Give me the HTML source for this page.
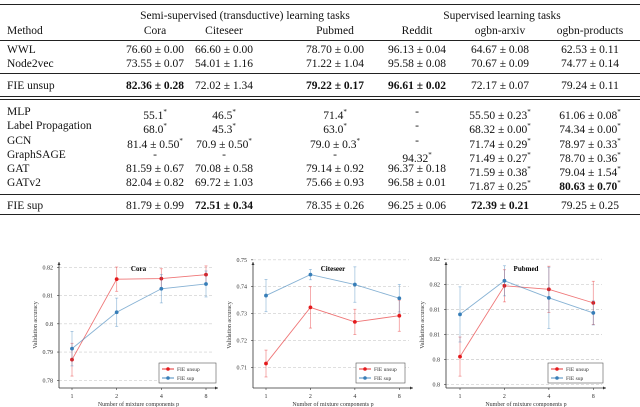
<!DOCTYPE html>
<html><head><meta charset="utf-8"><style>
body{margin:0;width:640px;height:407px;overflow:hidden;background:#fff;font-family:"Liberation Serif",serif;color:#111}
.t{position:absolute;font-size:11.5px;white-space:nowrap;line-height:14px}
.c{transform:translateX(-50%)}
.r{position:absolute;left:0;width:640px;background:#222}
b{font-weight:bold}
sup{font-size:7px;vertical-align:5px}
svg{position:absolute;left:0;top:0}
</style></head><body>
<div>
<div class="r" style="top:4px;height:1.3px"></div>
<div class="t c" style="left:245px;top:9px">Semi-supervised (transductive) learning tasks</div>
<div class="t c" style="left:502px;top:9px">Supervised learning tasks</div>
<div class="t" style="left:7px;top:24px">Method</div>
<div class="t c" style="left:155px;top:24px">Cora</div>
<div class="t c" style="left:224px;top:24px">Citeseer</div>
<div class="t c" style="left:335px;top:24px">Pubmed</div>
<div class="t c" style="left:417px;top:24px">Reddit</div>
<div class="t c" style="left:500px;top:24px">ogbn-arxiv</div>
<div class="t c" style="left:590px;top:24px">ogbn-products</div>
<div class="r" style="top:40px;height:0.8px"></div>
<div id="rows"></div>
<div class="r" style="top:73px;height:0.8px"></div>
<div class="r" style="top:96px;height:0.8px"></div>
<div class="r" style="top:99px;height:0.8px"></div>
<div class="r" style="top:194px;height:0.8px"></div>
<div class="r" style="top:214px;height:1.3px"></div>
</div>
<svg id="ch" width="640" height="407"></svg>
<script>
var rows=[
["WWL",43,"76.60 ± 0.00","66.60 ± 0.00","78.70 ± 0.00","96.13 ± 0.04","64.67 ± 0.08","62.53 ± 0.11"],
["Node2vec",57,"73.55 ± 0.07","54.01 ± 1.16","71.22 ± 1.04","95.58 ± 0.08","70.67 ± 0.09","74.77 ± 0.14"],
["FIE unsup",79,"<b>82.36 ± 0.28</b>","72.02 ± 1.34","<b>79.22 ± 0.17</b>","<b>96.61 ± 0.02</b>","72.17 ± 0.07","79.24 ± 0.11"],
["MLP",105,"55.1<sup>*</sup>","46.5<sup>*</sup>","71.4<sup>*</sup>","-","55.50 ± 0.23<sup>*</sup>","61.06 ± 0.08<sup>*</sup>"],
["Label Propagation",119,"68.0<sup>*</sup>","45.3<sup>*</sup>","63.0<sup>*</sup>","-","68.32 ± 0.00<sup>*</sup>","74.34 ± 0.00<sup>*</sup>"],
["GCN",134,"81.4 ± 0.50<sup>*</sup>","70.9 ± 0.50<sup>*</sup>","79.0 ± 0.3<sup>*</sup>","-","71.74 ± 0.29<sup>*</sup>","78.97 ± 0.33<sup>*</sup>"],
["GraphSAGE",148,"-","-","-","94.32<sup>*</sup>","71.49 ± 0.27<sup>*</sup>","78.70 ± 0.36<sup>*</sup>"],
["GAT",162,"81.59 ± 0.67","70.08 ± 0.58","79.14 ± 0.92","96.37 ± 0.18","71.59 ± 0.38<sup>*</sup>","79.04 ± 1.54<sup>*</sup>"],
["GATv2",176,"82.04 ± 0.82","69.72 ± 1.03","75.66 ± 0.93","96.58 ± 0.01","71.87 ± 0.25<sup>*</sup>","<b>80.63 ± 0.70</b><sup>*</sup>"],
["FIE sup",199,"81.79 ± 0.99","<b>72.51 ± 0.34</b>","78.35 ± 0.26","96.25 ± 0.06","<b>72.39 ± 0.21</b>","79.25 ± 0.25"]];
var colX=[155,224,335,417,500,590];
var host=document.getElementById('rows');
rows.forEach(function(r){
  var m=document.createElement('div');m.className='t';m.style.left='7px';m.style.top=r[1]+'px';m.textContent=r[0];
  
  
  host.appendChild(m);
  for(var i=0;i<6;i++){var d=document.createElement('div');d.className='t c';d.style.left=colX[i]+'px';d.style.top=r[1]+'px';d.innerHTML=r[2+i];
  
  
  host.appendChild(d);}
});
</script>
<script>
var categories=["1","2","4","8"];
var coraTicks=[0.78,0.79,0.80,0.81,0.82];
var coraTickLabels=["0.78","0.79","0.8","0.81","0.82"];
var coraUnsup=[0.7873,0.8158,0.8160,0.8174];
var coraUnsupErr=[0.0058,0.0043,0.0035,0.0031];
var coraSup=[0.7912,0.8041,0.8124,0.8141];
var coraSupErr=[0.0061,0.0050,0.0050,0.0046];
var citeTicks=[0.71,0.72,0.73,0.74,0.75];
var citeTickLabels=["0.71","0.72","0.73","0.74","0.75"];
var citeUnsup=[0.7114,0.7323,0.7269,0.7292];
var citeUnsupErr=[0.0050,0.0077,0.0047,0.0058];
var citeSup=[0.7367,0.7445,0.7408,0.7357];
var citeSupErr=[0.0060,0.0019,0.0066,0.0051];
var pubTicks=[0.800,0.805,0.810,0.815,0.820,0.825];
var pubTickLabels=["0.8","0.8","0.81","0.81","0.82","0.82"];
var pubUnsup=[0.8056,0.8197,0.8190,0.8163];
var pubUnsupErr=[0.0039,0.0032,0.0046,0.0043];
var pubSup=[0.8140,0.8207,0.8173,0.8143];
var pubSupErr=[0.0055,0.0030,0.0061,0.0024];

var svg=document.getElementById('ch'),NS='http://www.w3.org/2000/svg';
function el(t,a,p){var e=document.createElementNS(NS,t);for(var k in a)e.setAttribute(k,a[k]);(p||svg).appendChild(e);return e;}
var RED='#e41a1c',BLUE='#377eb8';
function chart(o){
  var g=el('g',{});
  
  
  var y=function(v){return o.y0px+(v-o.v0)*(o.y1px-o.y0px)/(o.v1-o.v0);};
  var x=function(i){return o.x1+i*(o.x4-o.x1)/(categories.length-1);};
  o.ticks.forEach(function(t,i){
    var gl=el('line',{x1:o.left,x2:o.right-4,y1:y(t),y2:y(t),stroke:'#ccc','stroke-width':0.7,'stroke-dasharray':'3,2'},g);
    
    
    var tl=el('text',{x:o.left-6,y:y(t)+2,'text-anchor':'end','font-size':6,fill:'#333'},g);tl.textContent=o.tickLabels[i];
    
    
    el('line',{x1:o.left-2,x2:o.left,y1:y(t),y2:y(t),stroke:'#333','stroke-width':0.6},g);
  });
  el('line',{x1:o.left,x2:o.left,y1:388,y2:o.top,stroke:'#333','stroke-width':0.8},g);
  el('path',{d:'M'+(o.left-1.5)+','+(o.top+3)+'L'+o.left+','+o.top+'L'+(o.left+1.5)+','+(o.top+3)+'Z',fill:'#333'},g);
  el('line',{x1:o.left,x2:o.right,y1:388,y2:388,stroke:'#333','stroke-width':0.8},g);
  el('path',{d:'M'+(o.right-3)+',386.5L'+o.right+',388L'+(o.right-3)+',389.5Z',fill:'#333'},g);
  categories.forEach(function(c,i){
    el('line',{x1:x(i),x2:x(i),y1:388,y2:390,stroke:'#333','stroke-width':0.6},g);
    var tx=el('text',{x:x(i),y:398,'text-anchor':'middle','font-size':6,fill:'#333'},g);tx.textContent=c;
    
    
  });
  var ti=el('text',{x:(o.left+o.right)/2,y:271,'text-anchor':'middle','font-size':7,'font-weight':'bold'},g);ti.textContent=o.title;
  
  
  var xl=el('text',{x:(o.left+o.right)/2,y:406,'text-anchor':'middle','font-size':6,fill:'#333'},g);xl.textContent='Number of mixture components p';
  
  
  var yc=(o.top+388)/2;
  var yl=el('text',{x:o.left-22,y:yc,'text-anchor':'middle','font-size':6,fill:'#333',transform:'rotate(-90 '+(o.left-22)+' '+yc+')'},g);yl.textContent='Validation accuracy';
  
  
  [[o.unsup,o.unsupErr,RED,'fie-unsup'],[o.sup,o.supErr,BLUE,'fie-sup']].forEach(function(s){
    var vals=s[0],err=s[1],col=s[2];
    var pts=vals.map(function(v,i){return x(i)+','+y(v);}).join(' ');
    var pl=el('polyline',{points:pts,fill:'none',stroke:col,'stroke-opacity':0.6,'stroke-width':0.9},g);
    
    
    vals.forEach(function(v,i){
      el('line',{x1:x(i),x2:x(i),y1:y(v-err[i]),y2:y(v+err[i]),stroke:col,'stroke-opacity':0.45,'stroke-width':0.8},g);
      el('line',{x1:x(i)-1.5,x2:x(i)+1.5,y1:y(v-err[i]),y2:y(v-err[i]),stroke:col,'stroke-opacity':0.45,'stroke-width':0.8},g);
      el('line',{x1:x(i)-1.5,x2:x(i)+1.5,y1:y(v+err[i]),y2:y(v+err[i]),stroke:col,'stroke-opacity':0.45,'stroke-width':0.8},g);
      var pt=el('circle',{cx:x(i),cy:y(v),r:1.9,fill:col},g);
      
      
    });
  });
  var lg=el('g',{},g);
  
  
  el('rect',{x:o.lx,y:363,width:o.lw,height:20,fill:'#fff',stroke:'#555','stroke-width':0.6},lg);
  [['FIE unsup',RED,369],['FIE sup',BLUE,378]].forEach(function(e){
    el('line',{x1:o.lx+3,x2:o.lx+15,y1:e[2],y2:e[2],stroke:e[1],'stroke-width':0.9},lg);
    el('circle',{cx:o.lx+9,cy:e[2],r:1.8,fill:e[1]},lg);
    var t=el('text',{x:o.lx+18,y:e[2]+2,'font-size':5.5,fill:'#333'},lg);t.textContent=e[0];
    
    
  });
}
chart({name:'cora',title:'Cora',left:59,right:218,top:262,x1:72,x4:206,v0:0.78,v1:0.82,y0px:380.3,y1px:267.3,ticks:coraTicks,tickLabels:coraTickLabels,unsup:coraUnsup,unsupErr:coraUnsupErr,sup:coraSup,supErr:coraSupErr,lx:159,lw:57});
chart({name:'citeseer',title:'Citeseer',left:253,right:413,top:262,x1:266,x4:399.3,v0:0.71,v1:0.74,y0px:367.3,y1px:286.7,ticks:citeTicks,tickLabels:citeTickLabels,unsup:citeUnsup,unsupErr:citeUnsupErr,sup:citeSup,supErr:citeSupErr,lx:356,lw:49});
chart({name:'pubmed',title:'Pubmed',left:446,right:606,top:262,x1:460,x4:593.3,v0:0.80,v1:0.82,y0px:384.7,y1px:284.3,ticks:pubTicks,tickLabels:pubTickLabels,unsup:pubUnsup,unsupErr:pubUnsupErr,sup:pubSup,supErr:pubSupErr,lx:548,lw:55});
</script>
</body></html>
